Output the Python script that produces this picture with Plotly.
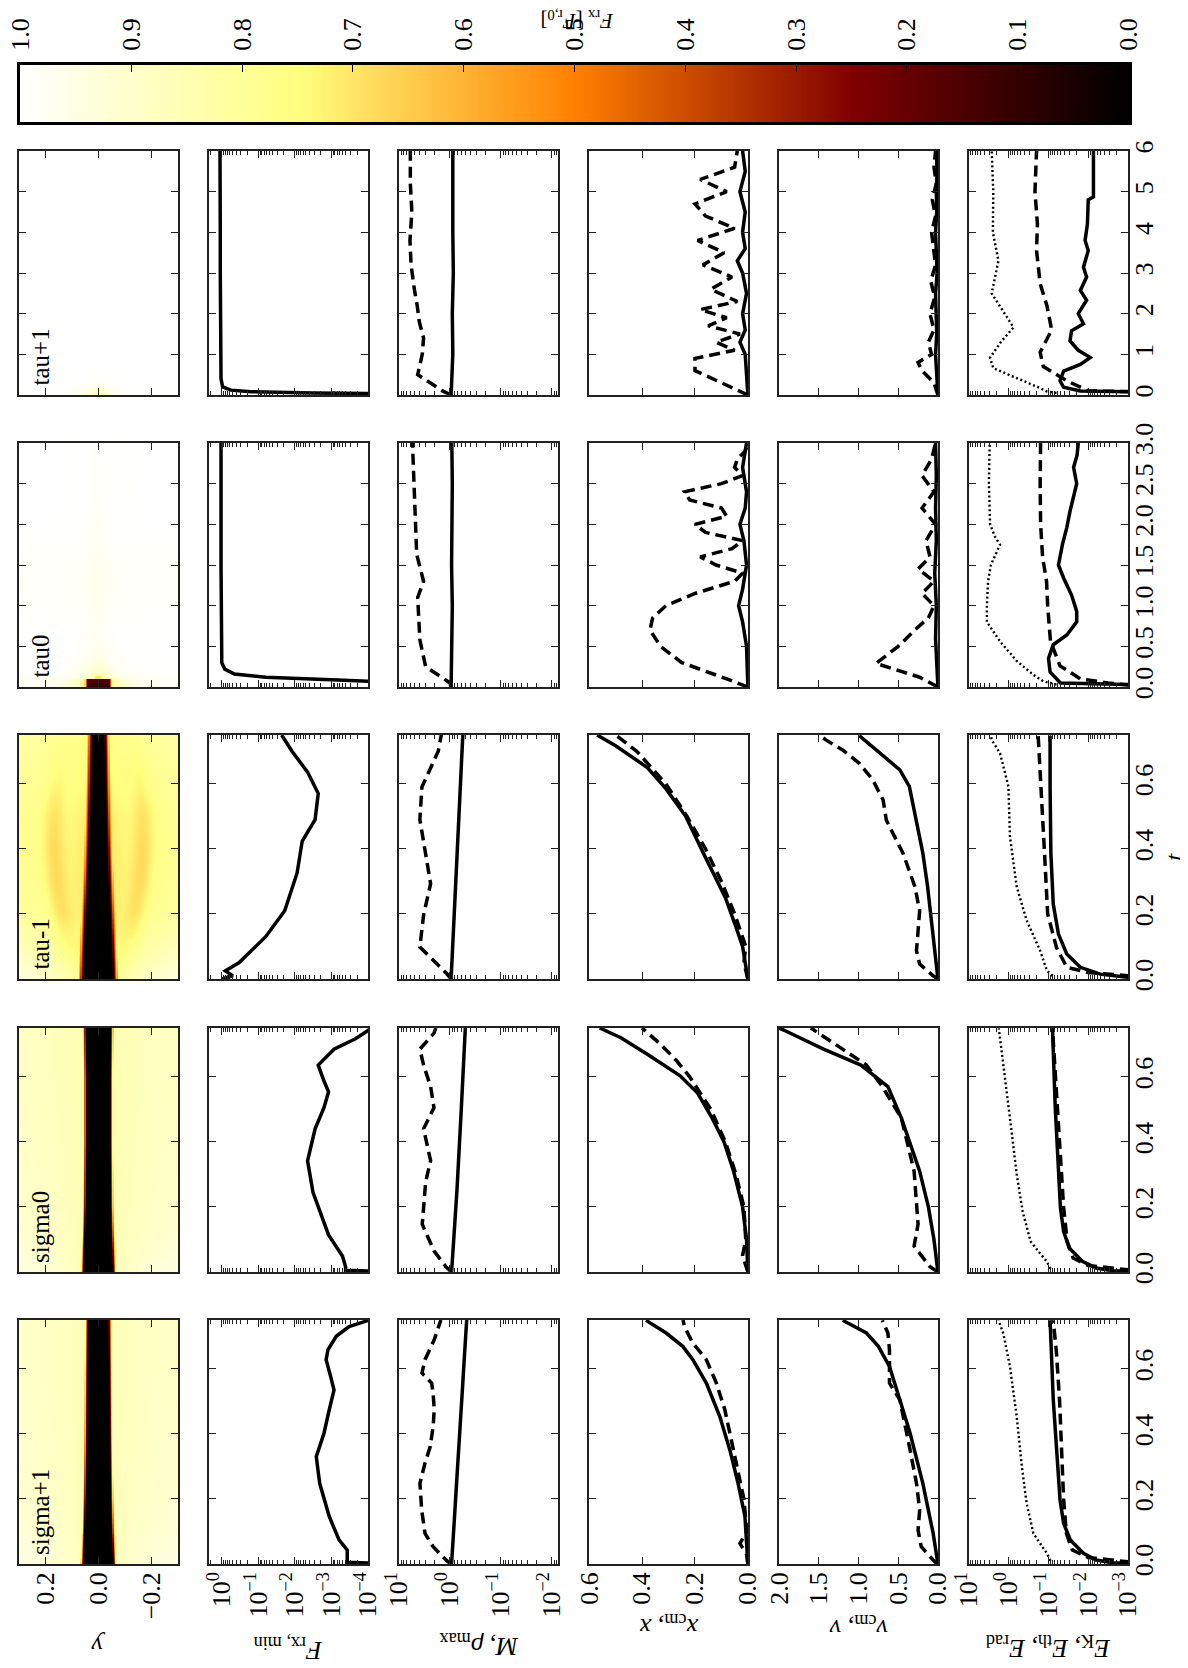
import numpy as np
import plotly.graph_objects as go

# ======================= data =======================
runs = ["tau+1", "tau0", "tau-1", "sigma0", "sigma+1"]     # panel rows, top -> bottom
t_max = [6.0, 3.0, 0.75, 0.75, 0.75]

# ---- F_rx,min ----
t_F_tp1 = [0, 0.03, 0.05, 0.08, 0.12, 0.2, 0.4, 1, 2, 3, 4, 5, 6]
F_tp1 = [1e-5, 3.2e-5, 3.2e-3, 0.16, 0.56, 0.95, 1.05, 1.07, 1.07, 1.1, 1.1, 1.12, 1.12]
t_F_t0 = [0, 0.06, 0.09, 0.12, 0.16, 0.22, 0.3, 0.6, 1.0, 1.5, 2.0, 2.5, 3.0]
F_t0 = [1e-5, 3.2e-5, 1e-3, 0.063, 0.45, 0.83, 1.0, 1.02, 1.05, 1.05, 1.05, 1.05, 1.05]
t_F_tm1 = [0, 0.01, 0.025, 0.05, 0.13, 0.21, 0.326, 0.424, 0.49, 0.57, 0.636, 0.70, 0.75]
F_tm1 = [1.0, 0.5, 0.8, 0.34, 0.063, 0.019, 0.0087, 0.0063, 0.0028, 0.0023, 0.0045, 0.012, 0.023]
t_F_s0 = [0, 0.005, 0.016, 0.049, 0.114, 0.245, 0.342, 0.44, 0.505, 0.554, 0.587, 0.636, 0.685, 0.717, 0.74, 0.75]
F_s0 = [1e-5, 4.1e-4, 4.1e-4, 5e-4, 1.2e-3, 3.2e-3, 4.5e-3, 2.8e-3, 1.6e-3, 1.2e-3, 1.6e-3, 2.3e-3, 8.5e-4, 2.2e-4, 1.07e-4, 8e-5]
t_F_sp1 = [0, 0.005, 0.043, 0.074, 0.146, 0.248, 0.33, 0.402, 0.474, 0.535, 0.576, 0.628, 0.658, 0.70, 0.73, 0.75]
F_sp1 = [1e-5, 3.7e-4, 3.7e-4, 6.2e-4, 1.15e-3, 2.1e-3, 2.6e-3, 1.6e-3, 1.15e-3, 8.5e-4, 1.05e-3, 1.4e-3, 1.25e-3, 7.4e-4, 3.3e-4, 9e-5]

# ---- M (solid) and rho_max (dashed) ----
t_M_tp1 = [0, 1, 2, 3, 4, 5, 6]
M_tp1 = [0.95, 0.88, 0.9, 0.86, 0.88, 0.87, 0.88]
t_rho_tp1 = [0, 0.1, 0.5, 1.0, 1.4, 1.8, 2.2, 2.6, 3.2, 3.8, 4.5, 5.2, 6.0]
rho_tp1 = [0.95, 1.4, 4.3, 3.5, 3.3, 4.0, 4.4, 5.0, 5.8, 6.1, 5.6, 6.0, 6.0]
t_M_t0 = [0, 0.5, 1, 1.5, 2, 2.5, 3]
M_t0 = [0.95, 0.92, 0.9, 0.93, 0.91, 0.9, 0.92]
t_rho_t0 = [0, 0.05, 0.25, 0.58, 1.1, 1.3, 1.63, 2.15, 2.5, 2.94, 3.0]
rho_t0 = [0.95, 1.0, 3.0, 3.9, 4.3, 3.3, 4.5, 4.9, 5.2, 5.4, 5.4]
t_M_tm1 = [0, 0.25, 0.5, 0.75]
M_tm1 = [0.95, 0.8, 0.67, 0.56]
t_rho_tm1 = [0, 0.016, 0.098, 0.196, 0.293, 0.39, 0.49, 0.59, 0.65, 0.7, 0.75]
rho_tm1 = [0.95, 1.15, 3.9, 3.3, 2.4, 3.0, 3.9, 3.55, 2.4, 1.7, 1.48]
t_M_s0 = [0, 0.25, 0.5, 0.75]
M_s0 = [0.93, 0.73, 0.6, 0.5]
t_rho_s0 = [0, 0.016, 0.065, 0.147, 0.277, 0.342, 0.44, 0.505, 0.57, 0.636, 0.685, 0.734, 0.75]
rho_s0 = [0.93, 1.2, 2.06, 3.5, 3.0, 2.4, 3.3, 2.06, 2.4, 3.3, 3.9, 2.06, 1.9]
t_M_sp1 = [0, 0.25, 0.5, 0.75]
M_sp1 = [0.93, 0.74, 0.59, 0.47]
t_rho_sp1 = [0.0, 0.007, 0.053, 0.094, 0.166, 0.248, 0.31, 0.36, 0.422, 0.474, 0.525, 0.556, 0.587, 0.628, 0.689, 0.74, 0.75]
rho_sp1 = [0.93, 1.1, 2.14, 3.09, 3.59, 3.89, 3.09, 2.45, 2.14, 2.04, 2.14, 2.29, 3.55, 3.09, 2.04, 1.58, 1.51]

# ---- x_cm (solid) and x (dashed) ----
t_xcm_tp1 = [0, 1, 1.3, 1.6, 2, 2.5, 3, 3.3, 3.6, 4, 4.5, 5, 5.5, 6]
xcm_tp1 = [0, 0.01, 0.03, 0.01, 0.02, 0.005, 0.02, 0.04, 0.01, 0.02, 0.01, 0.03, 0.01, 0.02]
t_xf_tp1 = [0, 0.3, 0.6, 0.9, 1.1, 1.3, 1.5, 1.7, 1.9, 2.1, 2.3, 2.6, 2.9, 3.2, 3.5, 3.8, 4.1, 4.4, 4.7, 5.0, 5.3, 5.6, 6.0]
xf_tp1 = [0, 0.1, 0.2, 0.2, 0.05, 0.12, 0.03, 0.15, 0.08, 0.18, 0.04, 0.14, 0.06, 0.17, 0.09, 0.19, 0.05, 0.16, 0.2, 0.08, 0.18, 0.05, 0.04]
t_xcm_t0 = [0, 0.5, 0.8, 1.0, 1.2, 1.5, 1.8, 2.0, 2.2, 2.4, 2.7, 3.0]
xcm_t0 = [0, 0.005, 0.02, 0.035, 0.02, 0.005, 0.015, 0.03, 0.01, 0.005, 0.02, 0.005]
t_xf_t0 = [0, 0.1, 0.3, 0.5, 0.7, 0.85, 1.0, 1.15, 1.3, 1.4, 1.5, 1.6, 1.7, 1.8, 1.9, 2.0, 2.1, 2.2, 2.3, 2.4, 2.5, 2.6, 2.7, 2.8, 2.9, 3.0]
xf_t0 = [0, 0.08, 0.25, 0.33, 0.37, 0.36, 0.31, 0.2, 0.05, 0.02, 0.12, 0.18, 0.06, 0.02, 0.16, 0.2, 0.08, 0.1, 0.22, 0.24, 0.1, 0.02, 0.05, 0.04, 0.01, 0.0]
t_xcm_tm1 = [0, 0.1, 0.16, 0.25, 0.39, 0.5, 0.585, 0.65, 0.717, 0.75]
xcm_tm1 = [0, 0.02, 0.045, 0.085, 0.17, 0.235, 0.31, 0.38, 0.5, 0.57]
t_xf_tm1 = [0, 0.05, 0.1, 0.2, 0.3, 0.4, 0.5, 0.6, 0.7, 0.75]
xf_tm1 = [0, 0.015, 0.008, 0.05, 0.1, 0.16, 0.23, 0.31, 0.42, 0.5]
t_xcm_s0 = [0, 0.1, 0.2, 0.31, 0.4, 0.473, 0.55, 0.603, 0.668, 0.72, 0.75]
xcm_s0 = [0, 0.005, 0.02, 0.054, 0.09, 0.135, 0.19, 0.256, 0.377, 0.48, 0.56]
t_xf_s0 = [0, 0.05, 0.1, 0.2, 0.3, 0.4, 0.5, 0.6, 0.65, 0.7, 0.75]
xf_s0 = [0, 0.02, 0.008, 0.015, 0.045, 0.085, 0.14, 0.22, 0.27, 0.33, 0.4]
t_xcm_sp1 = [0, 0.146, 0.248, 0.35, 0.453, 0.556, 0.628, 0.669, 0.71, 0.749]
xcm_sp1 = [0.0, 0.011, 0.037, 0.068, 0.106, 0.157, 0.208, 0.246, 0.309, 0.385]
t_xf_sp1 = [0, 0.03, 0.063, 0.1, 0.2, 0.35, 0.474, 0.556, 0.628, 0.679, 0.73, 0.75]
xf_sp1 = [0.0, 0.005, 0.03, 0.004, 0.015, 0.056, 0.087, 0.119, 0.157, 0.208, 0.24, 0.245]

# ---- v_cm (solid) and v (dashed) ----
t_vcm_tp1 = [0, 0.5, 1, 1.5, 2, 2.5, 3, 3.5, 4, 4.5, 5, 5.5, 6]
vcm_tp1 = [0, 0.02, 0.03, 0.015, 0.02, 0.03, 0.01, 0.02, 0.03, 0.015, 0.02, 0.01, 0.02]
t_vf_tp1 = [0, 0.3, 0.6, 0.8, 1.0, 1.3, 1.6, 2.0, 2.4, 2.8, 3.2, 3.6, 4.0, 4.4, 4.8, 5.2, 5.6, 6.0]
vf_tp1 = [0, 0.05, 0.2, 0.25, 0.08, 0.12, 0.05, 0.1, 0.04, 0.09, 0.03, 0.06, 0.08, 0.03, 0.07, 0.02, 0.05, 0.03]
t_vcm_t0 = [0, 0.3, 0.6, 1.0, 1.4, 1.8, 2.2, 2.6, 3.0]
vcm_t0 = [0, 0.02, 0.03, 0.02, 0.04, 0.02, 0.03, 0.02, 0.03]
t_vf_t0 = [0, 0.12, 0.29, 0.5, 0.72, 0.85, 1.0, 1.15, 1.3, 1.45, 1.6, 1.8, 2.0, 2.2, 2.4, 2.6, 2.8, 3.0]
vf_t0 = [0, 0.23, 0.78, 0.5, 0.27, 0.12, 0.05, 0.2, 0.05, 0.25, 0.1, 0.15, 0.03, 0.2, 0.05, 0.2, 0.08, 0.03]
t_vcm_tm1 = [0, 0.13, 0.284, 0.387, 0.489, 0.592, 0.643, 0.694, 0.748]
vcm_tm1 = [0, 0.06, 0.13, 0.19, 0.27, 0.36, 0.48, 0.73, 0.99]
t_vf_tm1 = [0, 0.01, 0.046, 0.087, 0.148, 0.21, 0.284, 0.387, 0.43, 0.489, 0.55, 0.612, 0.663, 0.704, 0.735, 0.75]
vf_tm1 = [0, 0.06, 0.23, 0.27, 0.25, 0.23, 0.29, 0.44, 0.53, 0.65, 0.69, 0.82, 0.99, 1.2, 1.41, 1.5]
t_vcm_s0 = [0, 0.1, 0.2, 0.31, 0.473, 0.57, 0.636, 0.685, 0.74, 0.75]
vcm_s0 = [0, 0.05, 0.12, 0.23, 0.46, 0.63, 0.97, 1.44, 1.91, 2.0]
t_vf_s0 = [0, 0.016, 0.08, 0.147, 0.31, 0.473, 0.57, 0.636, 0.685, 0.734, 0.75]
vf_s0 = [0, 0.1, 0.3, 0.25, 0.3, 0.46, 0.7, 0.9, 1.2, 1.5, 1.6]
t_vcm_sp1 = [0, 0.094, 0.248, 0.402, 0.505, 0.607, 0.669, 0.71, 0.749]
vcm_sp1 = [0, 0.06, 0.19, 0.35, 0.48, 0.61, 0.75, 0.9, 1.2]
t_vf_sp1 = [0, 0.007, 0.053, 0.104, 0.166, 0.248, 0.35, 0.505, 0.556, 0.658, 0.71, 0.749]
vf_sp1 = [0, 0.04, 0.21, 0.25, 0.23, 0.27, 0.35, 0.48, 0.61, 0.61, 0.63, 0.7]

# ---- energies: E_K (solid), E_th (dashed), E_rad (dotted) ----
t_EK_tp1 = [0, 0.08, 0.1, 0.19, 0.35, 0.59, 0.75, 0.92, 1.1, 1.33, 1.58, 1.75, 2.0, 2.33, 2.57, 2.9, 3.14, 3.55, 3.8, 4.2, 4.8, 4.87, 5.5, 6.0]
EK_tp1 = [3.2e-4, 6.3e-4, 0.0158, 0.0417, 0.0513, 0.0417, 0.0158, 0.0089, 0.0178, 0.0288, 0.0263, 0.0132, 0.0178, 0.011, 0.0158, 0.011, 0.0132, 0.01, 0.012, 0.0105, 0.01, 0.0074, 0.0074, 0.0074]
t_Eth_tp1 = [0, 0.08, 0.1, 0.35, 0.5, 0.7, 1.05, 1.6, 2.2, 2.74, 3.55, 4.2, 5.0, 6.0]
Eth_tp1 = [3.2e-4, 6.3e-4, 0.01, 0.0347, 0.0617, 0.135, 0.162, 0.0832, 0.11, 0.162, 0.2, 0.19, 0.219, 0.2]
t_Erad_tp1 = [0.05, 0.09, 0.17, 0.42, 0.66, 0.92, 1.33, 1.66, 2.0, 2.5, 3.3, 4.0, 5.0, 6.0]
Erad_tp1 = [0.063, 0.112, 0.162, 0.631, 2.45, 2.95, 1.51, 0.759, 1.26, 2.69, 1.82, 2.51, 2.45, 2.69]
t_EK_t0 = [0, 0.03, 0.05, 0.1, 0.185, 0.35, 0.52, 0.64, 0.8, 0.93, 1.13, 1.34, 1.5, 1.75, 1.96, 2.16, 2.5, 2.7, 2.85, 3.0]
EK_t0 = [3.2e-4, 6.3e-4, 0.05, 0.063, 0.0912, 0.1, 0.0759, 0.0347, 0.0195, 0.0195, 0.0263, 0.0417, 0.0562, 0.0447, 0.0347, 0.0288, 0.0195, 0.0234, 0.0191, 0.0178]
t_Eth_t0 = [0, 0.05, 0.1, 0.26, 0.56, 0.8, 1.0, 1.3, 1.6, 2.0, 2.5, 3.0]
Eth_t0 = [3.2e-4, 3.2e-3, 0.0158, 0.0513, 0.0891, 0.1, 0.105, 0.112, 0.141, 0.158, 0.162, 0.158]
t_Erad_t0 = [0.03, 0.07, 0.15, 0.32, 0.56, 0.8, 1.0, 1.3, 1.5, 1.65, 1.75, 1.85, 2.0, 2.5, 3.0]
Erad_t0 = [0.063, 0.135, 0.24, 0.631, 1.66, 3.55, 3.55, 3.31, 2.82, 2.0, 1.66, 2.24, 2.95, 3.16, 3.02]
t_EK_tm1 = [0, 0.005, 0.015, 0.036, 0.077, 0.138, 0.23, 0.387, 0.592, 0.748]
EK_tm1 = [3.2e-4, 1e-3, 5e-3, 0.0158, 0.0347, 0.0562, 0.0759, 0.0871, 0.0912, 0.0912]
t_Eth_tm1 = [0, 0.01, 0.02, 0.036, 0.097, 0.2, 0.387, 0.592, 0.748]
Eth_tm1 = [3.2e-4, 1e-3, 0.01, 0.0347, 0.0631, 0.105, 0.126, 0.151, 0.182]
t_Erad_tm1 = [0.01, 0.026, 0.087, 0.18, 0.284, 0.438, 0.592, 0.694, 0.735, 0.75]
Erad_tm1 = [0.079, 0.11, 0.162, 0.355, 0.631, 0.933, 1.02, 1.66, 2.69, 2.82]
t_EK_s0 = [0, 0.004, 0.012, 0.033, 0.074, 0.125, 0.197, 0.35, 0.505, 0.749]
EK_s0 = [3.2e-4, 2.5e-3, 6.3e-3, 0.0141, 0.0302, 0.0417, 0.0501, 0.0589, 0.0676, 0.0794]
t_Eth_s0 = [0, 0.01, 0.02, 0.043, 0.094, 0.2, 0.35, 0.5, 0.65, 0.749]
Eth_s0 = [3.2e-4, 1.6e-3, 0.01, 0.024, 0.0339, 0.0417, 0.0501, 0.0603, 0.0708, 0.0794]
t_Erad_s0 = [0.01, 0.033, 0.063, 0.094, 0.186, 0.3, 0.453, 0.607, 0.71, 0.749]
Erad_s0 = [0.089, 0.112, 0.178, 0.282, 0.447, 0.631, 0.891, 1.26, 1.58, 1.78]
t_EK_sp1 = [0, 0.004, 0.012, 0.033, 0.074, 0.125, 0.197, 0.35, 0.505, 0.749]
EK_sp1 = [3.2e-4, 2.5e-3, 6.3e-3, 0.0132, 0.0282, 0.0417, 0.0513, 0.0617, 0.0759, 0.0912]
t_Eth_sp1 = [0, 0.01, 0.02, 0.043, 0.094, 0.2, 0.35, 0.5, 0.65, 0.749]
Eth_sp1 = [3.2e-4, 1.6e-3, 0.01, 0.0251, 0.0355, 0.0417, 0.0468, 0.0525, 0.0631, 0.0759]
t_Erad_sp1 = [0.01, 0.033, 0.063, 0.094, 0.186, 0.3, 0.453, 0.607, 0.71, 0.749]
Erad_sp1 = [0.089, 0.11, 0.162, 0.24, 0.355, 0.468, 0.631, 0.933, 1.38, 1.82]

# ---- F_rx maps: band half-width, core / near / far levels, side lobes (vs t) ----
map_t_tp1 = [0, 0.1, 0.15, 0.3, 0.6, 6.0]
map_hw_tp1 = [0, 0, 0, 0, 0, 0]
map_core_tp1 = [0.84, 0.88, 0.94, 0.985, 1.0, 1.0]
map_near_tp1 = [0.84, 0.88, 0.94, 0.985, 1.0, 1.0]
map_far_tp1 = [0.995, 0.997, 1.0, 1.0, 1.0, 1.0]
map_t_t0 = [0, 0.1, 0.13, 0.2, 0.35, 0.6, 1.0, 1.3, 1.6, 2.0, 3.0]
map_hw_t0 = [0.04, 0.04, 0.0, 0, 0, 0, 0, 0, 0, 0, 0]
map_core_t0 = [0.1, 0.16, 0.85, 0.9, 0.95, 0.98, 0.97, 0.965, 0.97, 0.985, 0.99]
map_near_t0 = [0.78, 0.8, 0.85, 0.9, 0.95, 0.98, 0.97, 0.965, 0.97, 0.985, 0.99]
map_far_t0 = [0.985, 0.985, 0.99, 0.995, 1.0, 1.0, 0.99, 0.99, 0.99, 1.0, 1.0]
map_t_tm1 = [0, 0.1, 0.2, 0.3, 0.4, 0.5, 0.6, 0.75]
map_hw_tm1 = [0.056, 0.05, 0.044, 0.038, 0.033, 0.029, 0.026, 0.022]
map_core_tm1 = [0, 0, 0, 0, 0, 0, 0, 0]
map_near_tm1 = [0.8, 0.74, 0.72, 0.71, 0.71, 0.72, 0.74, 0.76]
map_far_tm1 = [0.97, 0.89, 0.83, 0.81, 0.8, 0.8, 0.81, 0.83]
map_lobe_r_tm1 = [0.1, 0.12, 0.14, 0.16, 0.17, 0.17, 0.16, 0.14]
map_lobe_a_tm1 = [0, 0.03, 0.07, 0.08, 0.08, 0.07, 0.04, 0.015]
map_t_s0 = [0, 0.1, 0.2, 0.4, 0.6, 0.75]
map_hw_s0 = [0.055, 0.05, 0.046, 0.044, 0.044, 0.046]
map_core_s0 = [0, 0, 0, 0, 0, 0]
map_near_s0 = [0.86, 0.85, 0.85, 0.85, 0.85, 0.85]
map_far_s0 = [0.97, 0.93, 0.91, 0.9, 0.89, 0.89]
map_t_sp1 = [0, 0.1, 0.2, 0.4, 0.6, 0.75]
map_hw_sp1 = [0.056, 0.05, 0.046, 0.042, 0.04, 0.038]
map_core_sp1 = [0, 0, 0, 0, 0, 0]
map_near_sp1 = [0.87, 0.86, 0.86, 0.86, 0.86, 0.86]
map_far_sp1 = [0.97, 0.94, 0.92, 0.91, 0.9, 0.9]
map_edge = [0.012, 0.012, 0.02, 0.012, 0.012]
map_scale = [0.04, 0.05, 0.15, 0.16, 0.16]

# tick labels
cb_ticks = [0.0, 0.1, 0.2, 0.3, 0.4, 0.5, 0.6, 0.7, 0.8, 0.9, 1.0]
y_ticks = [-0.2, 0.0, 0.2]
x_ticks = [0.0, 0.2, 0.4, 0.6]
v_ticks = [0.0, 0.5, 1.0, 1.5, 2.0]
F_decades = [0, -1, -2, -3, -4]
M_decades = [1, 0, -1, -2]
E_decades = [1, 0, -1, -2, -3]
t_ticks_rows = [[0, 1, 2, 3, 4, 5, 6],
                [0.0, 0.5, 1.0, 1.5, 2.0, 2.5, 3.0],
                [0.0, 0.2, 0.4, 0.6], [0.0, 0.2, 0.4, 0.6], [0.0, 0.2, 0.4, 0.6]]

# ======================= assemble =======================
keys = ["tp1", "t0", "tm1", "s0", "sp1"]
G = globals()

W, H = 1188, 1668
OFF = 8          # the page body adds an 8 px margin; positions below are in screen pixels
FONT = "Liberation Serif"
TICK_SIZE = 26
COL_LEFT = [19, 209, 399, 589, 779, 969]
COL_W = 159
ROW_TOP = [151, 443, 735, 1028, 1320]
ROW_H = 244
INK = "#222222"

AFMHOT = [[0.0, "rgb(0,0,0)"], [0.25, "rgb(128,0,0)"], [0.5, "rgb(255,128,0)"],
          [0.75, "rgb(255,255,128)"], [1.0, "rgb(255,255,255)"]]


def px_x(p):
    return (p - OFF) / W


def px_y(p):
    return 1 - (p - OFF) / H


def build_map(i):
    k = keys[i]
    ts = G["map_t_" + k]
    yy = np.linspace(-0.3, 0.3, 121)
    tt = np.linspace(0, t_max[i], 98)
    ay = np.abs(yy)[None, :]
    hw = np.interp(tt, ts, G["map_hw_" + k])[:, None]
    core = np.interp(tt, ts, G["map_core_" + k])[:, None]
    near = np.interp(tt, ts, G["map_near_" + k])[:, None]
    far = np.interp(tt, ts, G["map_far_" + k])[:, None]
    e = map_edge[i]
    d = ay - hw
    ramp = core + (near - core) * np.clip(d / e, 0, 1)
    outer = far + (near - far) * np.exp(-np.clip(d - e, 0, None) / map_scale[i])
    z = np.where(d < e, ramp, outer)
    if ("map_lobe_r_" + k) in G:
        lr = np.interp(tt, ts, G["map_lobe_r_" + k])[:, None]
        la = np.interp(tt, ts, G["map_lobe_a_" + k])[:, None]
        z = z - la * np.exp(-((ay - lr) / 0.04) ** 2) * (d > e)
    return yy, tt, np.clip(z, 0, 1)


def pow_label(n):
    s = str(n).replace("-", "\u2212")
    return "10<sup>" + s + "</sup>"


def minor_vals(lo, hi):
    out = []
    for d in range(lo, hi):
        for m in range(2, 10):
            out.append(m * 10.0 ** d)
    return out


fig = go.Figure()
layout = {}

SOLID = dict(color="black", width=3.5)
DASH = dict(color="black", width=3.5, dash="11px,6px")
DOT = dict(color="black", width=2.4, dash="2px,2.6px")

base_axis = dict(showgrid=False, zeroline=False, showline=True, linecolor=INK, linewidth=1.6,
                 mirror="allticks", ticks="inside", ticklen=7, tickwidth=1.2, tickcolor=INK,
                 tickfont=dict(family=FONT, size=TICK_SIZE, color="black"), tickangle=-90,
                 automargin=False, ticklabeloverflow="allow")

for r in range(5):
    k = keys[r]
    for c in range(6):
        n = r * 6 + c + 1
        xs = "x" if n == 1 else "x%d" % n
        ys = "y" if n == 1 else "y%d" % n
        xa = dict(base_axis)
        ya = dict(base_axis)
        xa.update(domain=[px_x(COL_LEFT[c]), px_x(COL_LEFT[c] + COL_W)], anchor=ys,
                  showticklabels=(r == 4), ticklabelstandoff=-4)
        ya.update(domain=[px_y(ROW_TOP[r] + ROW_H), px_y(ROW_TOP[r])], anchor=xs,
                  showticklabels=(c == 5), side="right" if c == 5 else "left",
                  ticklabelstandoff=-8,
                  range=[0, t_max[r]], tickmode="array", tickvals=t_ticks_rows[r],
                  ticktext=[("%d" % v) if r == 0 else ("%.1f" % v) for v in t_ticks_rows[r]])
        if c == 0:
            xa.update(range=[0.3, -0.3], tickmode="array", tickvals=y_ticks,
                      ticktext=[("%.1f" % v).replace("-", "\u2212") for v in y_ticks])
            yy, tt, zz = build_map(r)
            fig.add_trace(go.Heatmap(x=yy, y=tt, z=zz, colorscale=AFMHOT, zmin=0, zmax=1,
                                     showscale=False, xaxis=xs, yaxis=ys, hoverinfo="skip"))
        elif c == 1:
            xa.update(type="log", range=[0.35, -4.0], tickmode="array",
                      tickvals=[10.0 ** d for d in F_decades],
                      ticktext=[pow_label(d) for d in F_decades],
                      minor=dict(tickmode="array", tickvals=minor_vals(-5, 1), ticks="inside",
                                 ticklen=4, tickwidth=1, tickcolor=INK))
            fig.add_trace(go.Scatter(x=G["F_" + k], y=G["t_F_" + k], mode="lines", line=SOLID,
                                     xaxis=xs, yaxis=ys, showlegend=False))
        elif c == 2:
            xa.update(type="log", range=[1.0005, -2.12], tickmode="array",
                      tickvals=[10.0 ** d for d in M_decades],
                      ticktext=[pow_label(d) for d in M_decades],
                      minor=dict(tickmode="array", tickvals=minor_vals(-3, 1), ticks="inside",
                                 ticklen=4, tickwidth=1, tickcolor=INK))
            fig.add_trace(go.Scatter(x=G["M_" + k], y=G["t_M_" + k], mode="lines", line=SOLID,
                                     xaxis=xs, yaxis=ys, showlegend=False))
            fig.add_trace(go.Scatter(x=G["rho_" + k], y=G["t_rho_" + k], mode="lines", line=DASH,
                                     xaxis=xs, yaxis=ys, showlegend=False))
        elif c == 3:
            xa.update(range=[0.6005, -0.0005], tickmode="array", tickvals=x_ticks,
                      ticktext=["%.1f" % v for v in x_ticks])
            fig.add_trace(go.Scatter(x=G["xcm_" + k], y=G["t_xcm_" + k], mode="lines", line=SOLID,
                                     xaxis=xs, yaxis=ys, showlegend=False))
            fig.add_trace(go.Scatter(x=G["xf_" + k], y=G["t_xf_" + k], mode="lines", line=DASH,
                                     xaxis=xs, yaxis=ys, showlegend=False))
        elif c == 4:
            xa.update(range=[2.001, -0.001], tickmode="array", tickvals=v_ticks,
                      ticktext=["%.1f" % v for v in v_ticks])
            fig.add_trace(go.Scatter(x=G["vcm_" + k], y=G["t_vcm_" + k], mode="lines", line=SOLID,
                                     xaxis=xs, yaxis=ys, showlegend=False))
            fig.add_trace(go.Scatter(x=G["vf_" + k], y=G["t_vf_" + k], mode="lines", line=DASH,
                                     xaxis=xs, yaxis=ys, showlegend=False))
        else:
            xa.update(type="log", range=[1.0005, -3.0005], tickmode="array",
                      tickvals=[10.0 ** d for d in E_decades],
                      ticktext=[pow_label(d) for d in E_decades],
                      minor=dict(tickmode="array", tickvals=minor_vals(-4, 1), ticks="inside",
                                 ticklen=4, tickwidth=1, tickcolor=INK))
            fig.add_trace(go.Scatter(x=G["EK_" + k], y=G["t_EK_" + k], mode="lines", line=SOLID,
                                     xaxis=xs, yaxis=ys, showlegend=False))
            fig.add_trace(go.Scatter(x=G["Eth_" + k], y=G["t_Eth_" + k], mode="lines", line=DASH,
                                     xaxis=xs, yaxis=ys, showlegend=False))
            fig.add_trace(go.Scatter(x=G["Erad_" + k], y=G["t_Erad_" + k], mode="lines", line=DOT,
                                     xaxis=xs, yaxis=ys, showlegend=False))
        layout["xaxis" if n == 1 else "xaxis%d" % n] = xa
        layout["yaxis" if n == 1 else "yaxis%d" % n] = ya

# colour bar drawn as its own axis (values 1 -> 0 from left to right)
cb_vals = np.linspace(0, 1, 301)
fig.add_trace(go.Heatmap(x=cb_vals, y=[0], z=[cb_vals], colorscale=AFMHOT, zmin=0, zmax=1,
                         showscale=False, xaxis="x31", yaxis="y31", hoverinfo="skip"))
layout["xaxis31"] = dict(domain=[px_x(20), px_x(1129)], anchor="y31", range=[1.0005, -0.0005],
                         side="top", tickmode="array", tickvals=cb_ticks,
                         ticktext=["%.1f" % v for v in cb_ticks], ticks="inside", ticklen=7,
                         tickwidth=1.2, tickcolor="black", tickangle=-90, ticklabelstandoff=6,
                         tickfont=dict(family=FONT, size=TICK_SIZE, color="black"),
                         showline=True, linecolor="black", linewidth=3, mirror=True,
                         showgrid=False, zeroline=False, automargin=False,
                         ticklabeloverflow="allow")
layout["yaxis31"] = dict(domain=[px_y(122), px_y(65)], anchor="x31", range=[-0.5, 0.5],
                         showticklabels=False, ticks="", showline=True, linecolor="black",
                         linewidth=3, mirror=True, showgrid=False, zeroline=False,
                         automargin=False)

annotations = []
titles = [("<i>y</i>", 99, 1646),
          ("<i>F</i><sub>rx, min</sub>", 289, 1649),
          ("<i>M</i>, <i>\u03c1</i><sub>max</sub>", 480, 1645),
          ("<i>x</i><sub>cm</sub>, <i>x</i>", 669, 1626),
          ("<i>v</i><sub>cm</sub>, <i>v</i>", 859, 1627),
          ("<i>E</i><sub>K</sub>, <i>E</i><sub>th</sub>, <i>E</i><sub>rad</sub>", 1049, 1647)]
for txt, xp, yp in titles:
    annotations.append(dict(text=txt, x=px_x(xp), y=px_y(yp), xref="paper", yref="paper",
                            showarrow=False, textangle=180, xanchor="center", yanchor="middle",
                            font=dict(family=FONT, size=26, color="black")))
for r in range(5):
    annotations.append(dict(text=runs[r], x=px_x(40), y=px_y(ROW_TOP[r] + ROW_H - 8),
                            xref="paper", yref="paper", showarrow=False, textangle=-90,
                            xanchor="center", yanchor="bottom", borderpad=0,
                            font=dict(family=FONT, size=25, color="black")))
annotations.append(dict(text="<i>t</i>", x=px_x(1174), y=px_y(857), xref="paper", yref="paper",
                        showarrow=False, textangle=-90, xanchor="center", yanchor="middle",
                        borderpad=0, font=dict(family=FONT, size=26, color="black")))
annotations.append(dict(text="<i>F</i><sub>rx</sub> [<i>F</i><sub>r,0</sub>]", x=px_x(578),
                        y=px_y(20), xref="paper", yref="paper", showarrow=False, textangle=180,
                        xanchor="center", yanchor="middle", borderpad=0,
                        font=dict(family=FONT, size=21, color="black")))

fig.update_layout(width=W, height=H, margin=dict(l=0, r=0, t=0, b=0, pad=0), autosize=False,
                  paper_bgcolor="white", plot_bgcolor="white", showlegend=False,
                  font=dict(family=FONT, size=TICK_SIZE, color="black"), annotations=annotations,
                  **layout)
fig.write_html("out.html")
